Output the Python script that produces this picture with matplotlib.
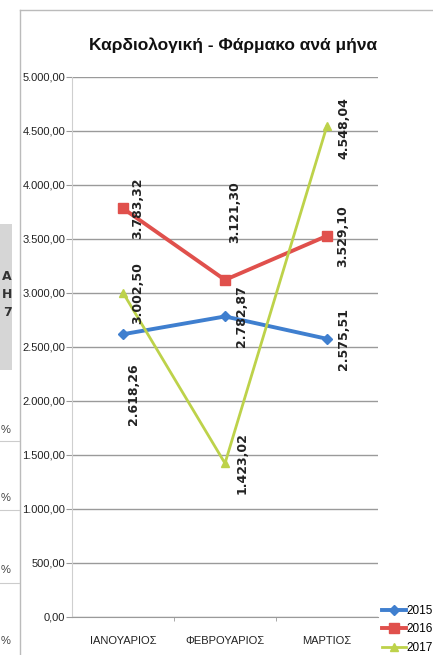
import numpy as np
import matplotlib.pyplot as plt
from matplotlib.ticker import FuncFormatter

months = ["ΙΑΝΟΥΑΡΙΟΣ", "ΦΕΒΡΟΥΑΡΙΟΣ", "ΜΑΡΤΙΟΣ"]
years = ["2015", "2016", "2017"]
v2015 = [2618.26, 2782.87, 2575.51]
v2016 = [3783.32, 3121.30, 3529.10]
v2017 = [3002.50, 1423.02, 4548.04]

colors = ["#3f7fcf", "#e0504c", "#bdd24a"]
markers = ["D", "s", "^"]
msizes = [5, 7, 6]
lws = [2.8, 2.8, 2.0]

# label offsets in pixels (dx, dy) per series / month
offsets = [
    [(10, -60), (16, 0), (16, 0)],
    [(15, 0), (10, 68), (16, 0)],
    [(15, 0), (17, 0), (17, -2)],
]

W, H = 433, 655
plt.rcParams['font.family'] = ['Liberation Sans Narrow', 'Liberation Sans', 'DejaVu Sans']


def fmt(v):
    return f"{v:,.2f}".replace(",", "X").replace(".", ",").replace("X", ".")


fig = plt.figure(figsize=(W / 100, H / 100), dpi=100)
fig.patch.set_facecolor("white")


def fx(px):
    return px / W


def fy(py):
    return 1 - py / H


# chart frame (left + top border)
fig.add_artist(plt.Line2D([fx(20), fx(20)], [fy(10), 0], color="#bbbbbb", lw=1))
fig.add_artist(plt.Line2D([fx(20), 1], [fy(10), fy(10)], color="#bbbbbb", lw=1))

# fragment of the table on the left
fig.add_artist(plt.Rectangle((0, fy(370)), fx(12), (370 - 224) / H, color="#d6d6d6", lw=0))
for t, yy in zip(["A", "H", "7"], [276, 294, 312]):
    fig.text(fx(12), fy(yy), t, ha="right", va="center", fontsize=9, fontweight="bold",
             family="DejaVu Sans", color="#333333")
for yy in [430, 498, 570, 641]:
    fig.text(fx(1), fy(yy), "%", ha="left", va="center", fontsize=8, color="#444444")
for yy in [441, 510, 583]:
    fig.add_artist(plt.Line2D([0, fx(19)], [fy(yy), fy(yy)], color="#cccccc", lw=0.8))

ax = fig.add_axes([fx(72), fy(617), fx(306), 540 / H])
x = np.arange(len(months))
series = [v2015, v2016, v2017]
for i, vals in enumerate(series):
    ax.plot(x, vals, color=colors[i], lw=lws[i], marker=markers[i], ms=msizes[i],
            label=years[i], zorder=3)
    for j, v in enumerate(vals):
        dx, dy = offsets[i][j]
        ax.annotate(fmt(v), (x[j], v), xytext=(dx, dy), textcoords="offset pixels",
                    rotation=90, ha="center", va="center", fontsize=9,
                    fontweight="bold", family="DejaVu Sans", color="#222222", zorder=4)

ax.set_xlim(-0.5, 2.5)
ax.set_ylim(0, 5000)
ax.set_yticks(np.arange(0, 5001, 500))
ax.yaxis.set_major_formatter(FuncFormatter(lambda v, p: fmt(v)))
ax.set_xticks(x)
ax.set_xticklabels(months)
ax.set_xticks([0.5, 1.5], minor=True)
ax.grid(axis="y", color="#9a9a9a", lw=1)
ax.set_axisbelow(True)
for s in ["top", "right"]:
    ax.spines[s].set_visible(False)
ax.spines["left"].set_color("#cfcfcf")
ax.spines["bottom"].set_color("#9a9a9a")
ax.tick_params(axis="y", length=4, color="#9a9a9a", labelsize=8, pad=1, labelcolor="#222222")
ax.tick_params(axis="x", which="major", length=0, labelsize=8, pad=14, labelcolor="#222222")
ax.tick_params(axis="x", which="minor", length=3, color="#9a9a9a")

fig.text(fx(233), fy(45), "Καρδιολογική - Φάρμακο ανά μήνα", ha="center", va="center",
         fontsize=12.5, fontweight="bold", color="#111111")

fig.legend(loc="upper left", bbox_to_anchor=(fx(382), fy(605)), frameon=False,
           fontsize=8.5, handlelength=2.0, handletextpad=0.1, labelspacing=0.55,
           borderaxespad=0, borderpad=0)

fig.savefig("out.png", dpi=100)
